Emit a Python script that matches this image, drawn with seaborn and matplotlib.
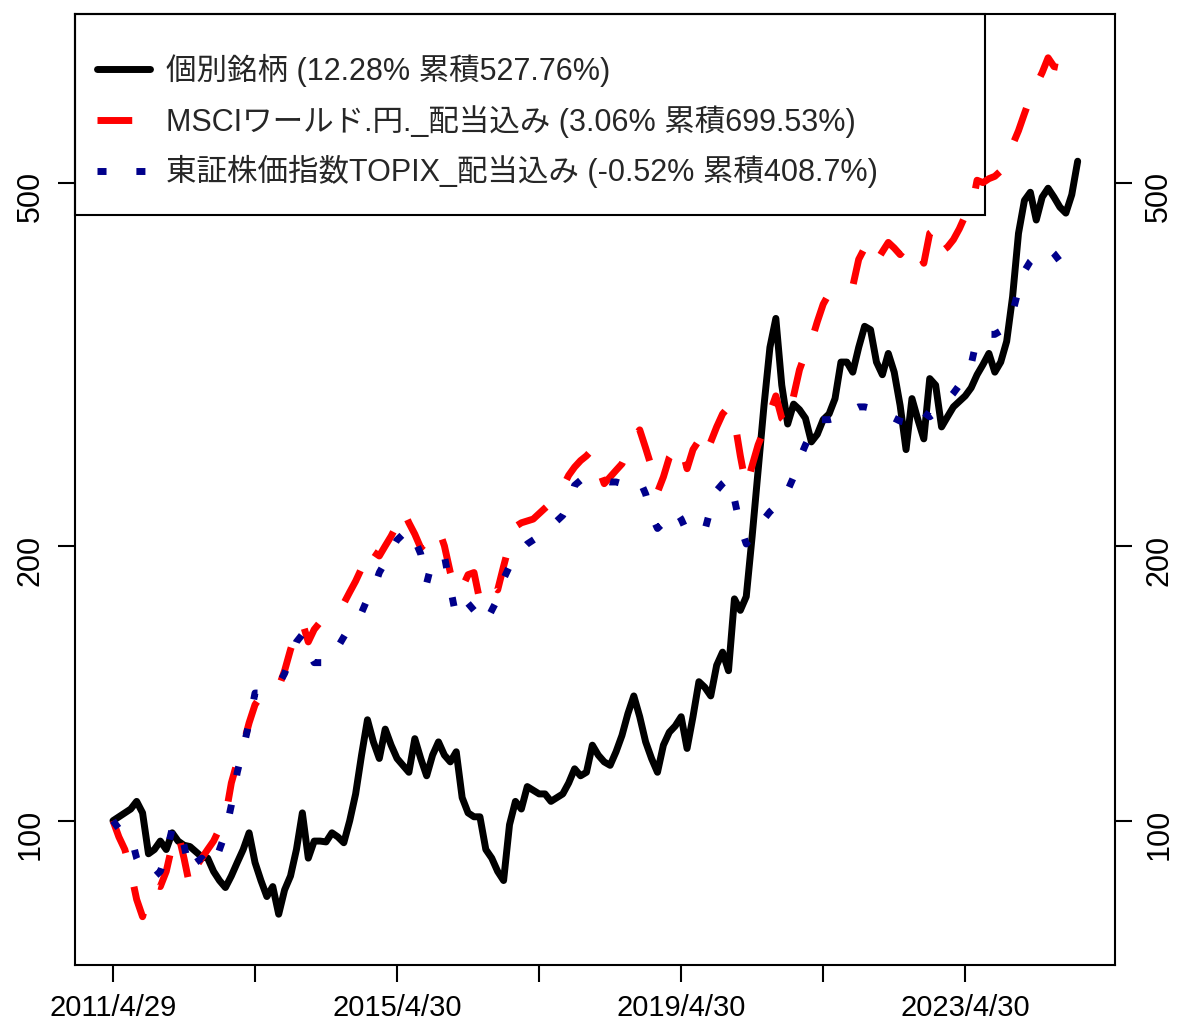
import numpy as np
import pandas as pd
import matplotlib
matplotlib.use("Agg")
import matplotlib.pyplot as plt
import matplotlib.ticker as mticker
from matplotlib.patches import Rectangle
import seaborn as sns

# monthly values, 2011/4 .. 2024/11 (index based x axis, like the R original)
stock_vals = [100, 101, 102, 103, 105, 102, 92, 93, 95, 93,
              97, 95, 94, 93.7, 92.5, 91.3, 91, 88, 86, 84.5,
              87, 90, 93, 97, 90, 86, 82.6, 84.7, 79, 84,
              87, 93, 102, 91, 95, 95, 94.8, 97, 96, 94.6,
              100, 107, 118, 129, 122, 117, 126, 121, 117, 115,
              113, 123, 117, 112, 118, 122, 118, 116, 119, 106,
              102, 101, 101, 93, 91, 88, 86, 99, 105, 103,
              109, 108, 107, 107, 105, 106, 107, 110, 114, 112,
              113, 121, 118, 116, 115, 119, 124, 131, 137, 130,
              122, 117, 113, 121, 125, 127, 130, 120, 130, 142,
              140, 137, 148, 153, 146, 175, 170, 176, 205, 242,
              285, 330, 355, 300, 272, 286, 282, 276, 260, 265,
              275, 279, 290, 318, 318, 310, 330, 348, 345, 318,
              308, 325, 310, 285, 255, 290, 275, 262, 305, 300,
              270, 277, 284, 288, 292, 298, 308, 316, 325, 310,
              318, 335, 375, 440, 478, 488, 455, 482, 493, 482,
              470, 463, 485, 527.76]

msci_vals = [100, 96, 93, 88, 82, 78.5, 83, 85, 84.7, 88,
             94, 97, 91, 84.7, 89, 91, 93, 95, 98, 101,
             110, 116, 121, 128, 134, 137, 137, 138, 140, 146,
             154, 161, 165, 157, 162, 165, 166, 168, 170, 173,
             178, 183, 189, 200, 197, 195, 200, 205, 211, 219,
             212, 206, 199, 202, 207, 209, 200, 187, 178, 180,
             186, 187, 174, 180, 181, 179, 190, 201, 210, 212,
             213, 214, 217, 220, 223, 226, 232, 239, 244, 248,
             251, 255, 244, 234, 238, 242, 246, 254, 263, 268,
             256, 244, 229, 238, 250, 256, 258, 243, 255, 261,
             251, 260, 270, 279, 284, 275, 251, 232, 245, 258,
             268, 280, 292, 276, 272, 292, 312, 325, 335, 352,
             368, 378, 384, 384, 386, 385, 412, 424, 427, 410,
             420, 430, 424, 417, 425, 430, 420, 408, 440, 445,
             420, 425, 433, 445, 460, 466, 503, 500, 505, 508,
             515, 528, 550, 570, 595, 620, 640, 660, 685, 670,
             668, 672, 680, 699.53]

topix_vals = [100, 98, 97, 96.5, 91, 88, 87, 86.8, 88, 92,
              98, 99, 94, 88, 90, 91, 89.5, 89, 93, 97,
              104, 113, 120, 128, 138, 138, 139, 140, 141, 145,
              151, 157, 160, 153, 149, 149, 149, 150, 155, 159,
              163, 167, 169, 175, 179, 187, 192, 198, 203, 206,
              209, 203, 196, 182, 193, 194, 195, 180, 167, 170,
              173, 170, 165, 165, 170, 175, 184, 190, 194, 198,
              201, 203, 205, 207, 210, 213, 216, 222, 233, 236,
              236, 236, 236, 236, 235, 235, 234, 234, 234, 236,
              228, 216, 209, 212, 215, 219, 214, 207, 207, 208,
              208, 220, 230, 234, 237, 225, 210, 201, 205, 209,
              214, 218, 221, 223, 230, 238, 249, 258, 266, 275,
              275, 275, 276, 278, 280, 282, 284, 284, 283, 281,
              278, 277, 276, 274, 273, 278, 283, 280, 277, 280,
              284, 289, 294, 300, 308, 316, 338, 341, 341, 341,
              344, 350, 360, 382, 400, 410, 416, 421, 424, 418,
              410, 404, 405, 408.7]

labels = ["個別銘柄 (12.28% 累積527.76%)",
          "MSCIワールド.円._配当込み (3.06% 累積699.53%)",
          "東証株価指数TOPIX_配当込み (-0.52% 累積408.7%)"]
x_tick_pos = [0, 24, 48, 72, 96, 120, 144]
x_tick_labels = ["2011/4/29", "", "2015/4/30", "", "2019/4/30", "", "2023/4/30"]
y_ticks = [100, 200, 500]

sns.set_style("white")
plt.rcParams['font.family'] = ['Liberation Sans', 'Noto Sans CJK JP', 'DejaVu Sans']

idx = np.arange(len(stock_vals))
df = pd.DataFrame({"idx": idx, "stock": stock_vals, "msci": msci_vals, "topix": topix_vals})

fig = plt.figure(figsize=(11.77, 10.23), dpi=100)
ax = fig.add_axes([0.0637, 0.0567, 0.8836, 0.9296])

lw = 5
sns.lineplot(data=df, x="idx", y="stock", ax=ax, color="black", linewidth=lw,
             solid_capstyle="round", label=labels[0])
sns.lineplot(data=df, x="idx", y="msci", ax=ax, color="#FF0000", linewidth=lw,
             linestyle=(0, (5, 5)), dash_capstyle="butt", label=labels[1])
sns.lineplot(data=df, x="idx", y="topix", ax=ax, color="#00008B", linewidth=lw,
             linestyle=(0, (1.3, 4.3)), dash_capstyle="butt", label=labels[2])

ax.set_yscale("log")
ax.set_ylim(69.5, 765)
ax.set_xlim(-6.42, 169.3)
ax.yaxis.set_major_locator(mticker.FixedLocator(y_ticks))
ax.yaxis.set_major_formatter(mticker.FixedFormatter([str(v) for v in y_ticks]))
ax.yaxis.set_minor_locator(mticker.NullLocator())
ax.set_xticks(x_tick_pos)
ax.set_xticklabels(x_tick_labels)
ax.set_xlabel("")
ax.set_ylabel("")

ax.tick_params(axis="both", direction="out", length=12, width=1.5, labelsize=21, colors="black")
ax.tick_params(axis="x", bottom=True, pad=9)
ax.tick_params(axis="y", left=True, right=True, labelleft=True, labelright=True,
               labelrotation=90, labelsize=22, pad=9)
for s in ax.spines.values():
    s.set_visible(True)
    s.set_color("black")
    s.set_linewidth(1.5)

leg = ax.legend(loc="upper left", bbox_to_anchor=(0.0212, 0.958), borderaxespad=0,
                borderpad=0, frameon=False, fontsize=22, handlelength=1.75,
                handletextpad=0.5, labelspacing=0.58)
ax.add_patch(Rectangle((0, 0.7886), 0.875, 0.2114, transform=ax.transAxes,
                       fill=False, edgecolor="black", linewidth=1.5, clip_on=False))

fig.savefig("out.png", dpi=100)
